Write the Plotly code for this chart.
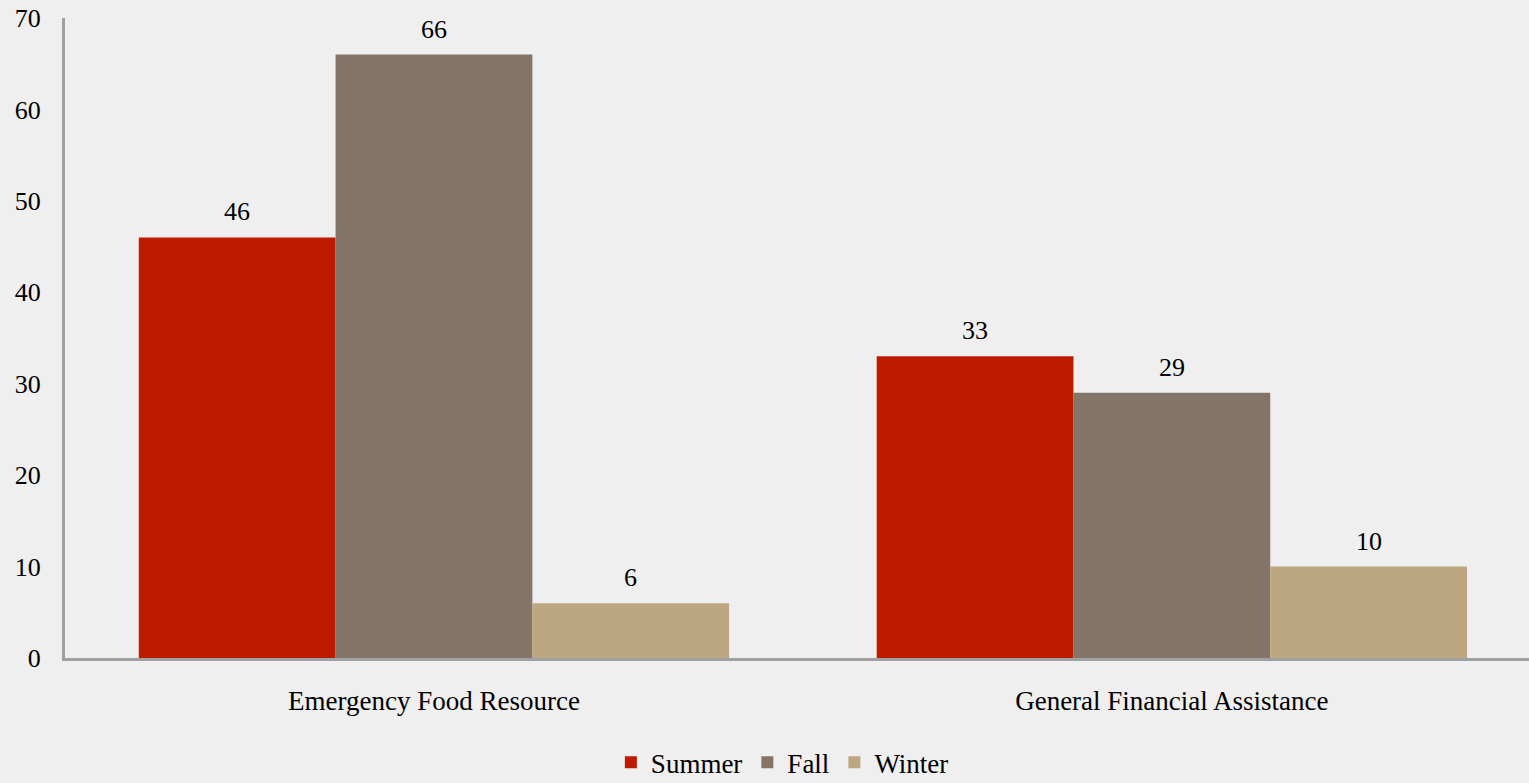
import plotly.graph_objects as go

CATEGORIES = ["Emergency Food Resource", "General Financial Assistance"]
SEASONS = ["Summer", "Fall", "Winter"]
SUMMER = [46, 33]
FALL = [66, 29]
WINTER = [6, 10]
COLORS = {"Summer": "#be1a00", "Fall": "#857468", "Winter": "#bda682"}

FONT = "Times New Roman"
BARGAP = 0.2

fig = go.Figure()
series = {"Summer": SUMMER, "Fall": FALL, "Winter": WINTER}
for name in SEASONS:
    fig.add_trace(
        go.Bar(
            name=name,
            x=CATEGORIES,
            y=series[name],
            marker=dict(color=COLORS[name], line=dict(width=0)),
        )
    )

# value labels above each bar
bar_w = (1 - BARGAP) / len(SEASONS)
for k, name in enumerate(SEASONS):
    for i, v in enumerate(series[name]):
        fig.add_annotation(
            x=i + (k - 1) * bar_w,
            y=v,
            text=str(v),
            showarrow=False,
            yanchor="bottom",
            yshift=9,
            font=dict(family=FONT, size=26, color="#000000"),
        )

fig.update_layout(
    barmode="group",
    bargap=BARGAP,
    bargroupgap=0,
    width=1529,
    height=783,
    paper_bgcolor="#efefef",
    plot_bgcolor="#efefef",
    margin=dict(l=65, r=0, t=18, b=125),
    font=dict(family=FONT, size=27, color="#000000"),
    xaxis=dict(
        range=[-0.5, 1.484],
        showgrid=False,
        showline=True,
        linecolor="#a0a0a0",
        linewidth=3,
        ticks="",
        ticklabelstandoff=17,
        tickfont=dict(size=27),
        automargin=False,
    ),
    yaxis=dict(
        range=[0, 70],
        dtick=10,
        showgrid=False,
        showline=True,
        linecolor="#a0a0a0",
        linewidth=3,
        ticks="",
        ticklabelstandoff=16,
        zeroline=False,
        tickfont=dict(size=26),
        automargin=False,
    ),
    legend=dict(
        orientation="h",
        x=0.49,
        xanchor="center",
        yref="container",
        y=0.026,
        yanchor="middle",
        font=dict(size=27),
        itemwidth=30,
        bgcolor="rgba(0,0,0,0)",
    ),
    showlegend=True,
)

fig.write_html(
    "out.html",
    config={"displayModeBar": False},
    post_script="document.body.style.margin='0';",
)
